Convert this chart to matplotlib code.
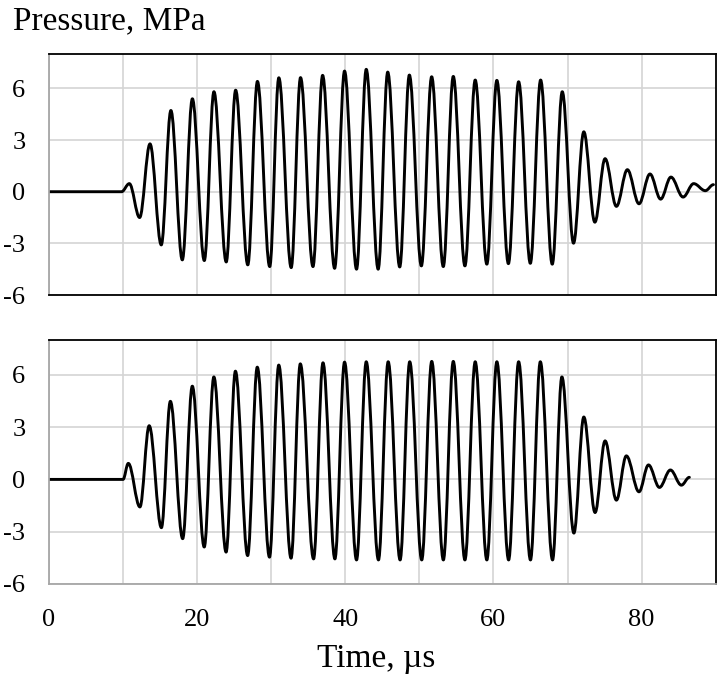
import matplotlib
matplotlib.use("Agg")
import matplotlib.pyplot as plt
from matplotlib.path import Path
from matplotlib.patches import PathPatch

# extrema of the waveform (time in us, pressure in MPa)
top_t = [0, 9.8, 10.85, 12.24, 13.64, 15.16, 16.46, 18.0, 19.36, 20.97, 22.27, 23.93,
         25.2, 26.84, 28.14, 29.8, 31.03, 32.7, 33.96, 35.64, 36.94, 38.56, 39.9, 41.52,
         42.83, 44.44, 45.73, 47.35, 48.65, 50.27, 51.66, 53.23, 54.58, 56.15, 57.54, 59.11,
         60.46, 62.02, 63.4, 64.98, 66.37, 67.94, 69.29, 70.81, 72.2, 73.69, 75.07, 76.6,
         78.08, 79.65, 81.13, 82.57, 83.96, 85.6, 87.03, 88.6, 89.7]
top_p = [0, 0, 0.47, -1.5, 2.78, -3.09, 4.72, -3.96, 5.40, -4.0, 5.81, -4.08,
         5.90, -4.25, 6.41, -4.35, 6.62, -4.41, 6.63, -4.35, 6.76, -4.45, 7.01, -4.5,
         7.11, -4.5, 6.95, -4.37, 6.78, -4.31, 6.68, -4.35, 6.70, -4.31, 6.49, -4.21,
         6.47, -4.18, 6.39, -4.16, 6.49, -4.21, 5.81, -2.99, 3.48, -1.77, 1.92, -0.85,
         1.28, -0.70, 1.03, -0.43, 0.85, -0.31, 0.47, 0.06, 0.41]

bot_t = [0, 10.0, 10.71, 12.28, 13.53, 15.18, 16.39, 18.05, 19.35, 20.96, 22.26, 23.91,
         25.17, 26.82, 28.12, 29.77, 31.02, 32.68, 33.93, 35.72, 36.99, 38.6, 39.9, 41.52,
         42.83, 44.48, 45.79, 47.4, 48.7, 50.32, 51.67, 53.24, 54.58, 56.15, 57.54, 59.11,
         60.46, 62.05, 63.4, 65.0, 66.33, 67.98, 69.24, 70.86, 72.2, 73.72, 75.07, 76.6,
         77.94, 79.65, 80.93, 82.41, 83.89, 85.37, 86.45]
bot_p = [0, 0, 0.92, -1.58, 3.08, -2.77, 4.48, -3.40, 5.35, -3.88, 5.88, -4.17,
         6.21, -4.37, 6.44, -4.46, 6.56, -4.52, 6.63, -4.56, 6.69, -4.56, 6.73, -4.62,
         6.75, -4.62, 6.75, -4.62, 6.75, -4.62, 6.77, -4.62, 6.77, -4.62, 6.75, -4.62,
         6.75, -4.62, 6.75, -4.62, 6.75, -4.62, 5.88, -3.08, 3.58, -1.90, 2.21, -1.19,
         1.35, -0.71, 0.83, -0.46, 0.54, -0.33, 0.12]

y_ticks = [-6, -3, 0, 3, 6]
x_ticks = [0, 10, 20, 30, 40, 50, 60, 70, 80]
x_labels = ["0", "", "20", "", "40", "", "60", "", "80"]

plt.rcParams["font.family"] = ["Liberation Serif", "DejaVu Serif"]
plt.rcParams["axes.unicode_minus"] = False

GRID = "#d4d4d4"
SPINE_GREY = "#a6a6a6"


def wave_path(t, p, k=0.363):
    # smooth curve through the extrema: one cubic bezier per half cycle,
    # flat tangent at every peak/trough
    verts = [(t[0], p[0])]
    codes = [Path.MOVETO]
    for i in range(len(t) - 1):
        dt = t[i + 1] - t[i]
        verts += [(t[i] + k * dt, p[i]), (t[i + 1] - k * dt, p[i + 1]), (t[i + 1], p[i + 1])]
        codes += [Path.CURVE4] * 3
    return Path(verts, codes)


def setup(ax, show_x):
    ax.set_xlim(0, 90)
    ax.set_ylim(-6, 8)
    ax.set_yticks(y_ticks)
    ax.set_xticks(x_ticks)
    ax.set_xticklabels(x_labels if show_x else [""] * len(x_ticks))
    ax.grid(True, color=GRID, linewidth=1.2)
    ax.set_axisbelow(True)
    ax.tick_params(length=0, labelsize=19)
    ax.tick_params(axis="y", pad=17)
    ax.tick_params(axis="x", pad=18)
    for s in ["top", "right", "bottom"]:
        ax.spines[s].set_color("black")
        ax.spines[s].set_linewidth(1.3)
    ax.spines["left"].set_color(SPINE_GREY)
    ax.spines["left"].set_linewidth(1.3)


fig = plt.figure(figsize=(7.2, 6.76), dpi=100)
ax1 = fig.add_axes([0.068, 0.5636, 0.926, 0.3565])
ax2 = fig.add_axes([0.068, 0.1361, 0.926, 0.361])

setup(ax1, False)
setup(ax2, True)
ax2.spines["bottom"].set_color(SPINE_GREY)

for ax, t, p in [(ax1, top_t, top_p), (ax2, bot_t, bot_p)]:
    ax.add_patch(PathPatch(wave_path(t, p), fill=False, edgecolor="black",
                           linewidth=2.1, joinstyle="round", capstyle="round"))

fig.text(13 / 720, 1 - 29 / 676, "Pressure, MPa", fontsize=24, va="baseline", ha="left")
fig.text(376 / 720, 1 - 667 / 676, "Time, µs", fontsize=24, va="baseline", ha="center")

fig.savefig("out.png", dpi=100)
